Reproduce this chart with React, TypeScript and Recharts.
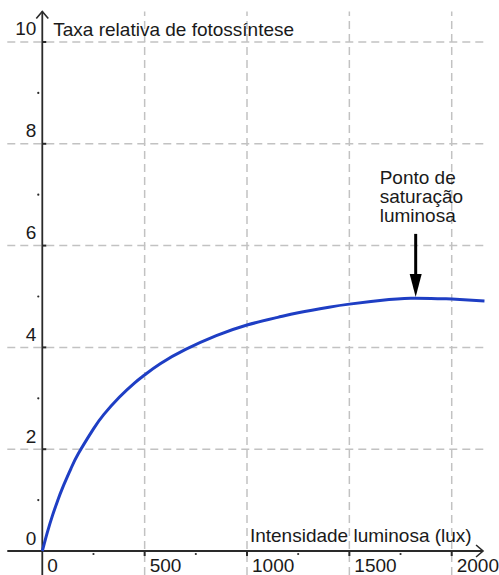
import React from 'react';
import { LineChart, Line, XAxis, YAxis, ReferenceLine, ReferenceDot } from 'recharts';

const luxValues = [0, 10, 25, 50, 76, 100, 140, 177, 250, 300, 376, 450, 500, 576, 700, 850, 1000, 1150, 1250, 1400, 1500, 1650, 1800, 1950, 2000, 2160];
const rateValues = [0, 0.15, 0.37, 0.7, 1.0, 1.25, 1.62, 1.92, 2.4, 2.68, 3.02, 3.3, 3.46, 3.68, 3.96, 4.23, 4.44, 4.59, 4.68, 4.79, 4.85, 4.92, 4.965, 4.955, 4.95, 4.91];

const xTicks = [0, 500, 1000, 1500, 2000];
const xTickLabels = ['0', '500', '1000', '1500', '2000'];
const xMinor = [250, 750, 1250, 1750];
const yTicks = [0, 2, 4, 6, 8, 10];
const yTickLabels = ['0', '2', '4', '6', '8', '10'];
const yMinor = [1, 3, 5, 7, 9];
const yGrid = [2, 4, 6, 8, 10];
const xGrid = [500, 1000, 1500, 2000];

const yTitle = 'Taxa relativa de fotossíntese';
const xTitle = 'Intensidade luminosa (lux)';
const noteLines = ['Ponto de', 'saturação', 'luminosa'];
const notePoint = { x: 1824, yTop: 6.23, yTip: 4.99 };

const X_DOMAIN = [-206.6, 2231];
const Y_DOMAIN = [-0.4715, 10.825];
const X_LEFT = -171;
const X_RIGHT = 2163;
const X_ARROW = 2153;
const Y_TOP = 10.6;
const Y_BOTTOM = -0.47;

const data = luxValues.map((x, i) => ({ x, y: rateValues[i] }));

const FONT = '"Liberation Sans", Arial, Helvetica, sans-serif';
const TEXT = '#1a1a1a';
const AXIS = '#2a2a2a';
const GRID = '#c2c2c2';

const yAxisShape = (p: any) => (
  <g>
    <line x1={p.x1} y1={p.y1} x2={p.x2} y2={p.y2} stroke={AXIS} strokeWidth={1.8} />
    <polyline points={`${p.x2 - 6},${p.y2 + 7} ${p.x2},${p.y2} ${p.x2 + 6},${p.y2 + 7}`} fill="none" stroke={AXIS} strokeWidth={1.6} />
  </g>
);

const xAxisShape = (p: any) => (
  <g>
    <line x1={p.x1} y1={p.y1} x2={p.x2} y2={p.y2} stroke={AXIS} strokeWidth={1.8} />
    <polyline points={`${p.x2 - 7},${p.y2 - 6} ${p.x2},${p.y2} ${p.x2 - 7},${p.y2 + 6}`} fill="none" stroke={AXIS} strokeWidth={1.6} />
  </g>
);

const noteArrowShape = (p: any) => {
  const x = p.x1;
  const top = Math.min(p.y1, p.y2);
  const tip = Math.max(p.y1, p.y2);
  return (
    <g>
      <line x1={x} y1={top} x2={x} y2={tip - 20} stroke="#000" strokeWidth={3} />
      <polygon points={`${x - 6},${tip - 23} ${x + 6},${tip - 23} ${x},${tip}`} fill="#000" />
    </g>
  );
};

export default function App() {
  return (
    <div style={{ position: 'absolute', left: 0, top: 0, width: 499, height: 575, background: '#fff' }}>
      <LineChart width={499} height={575} data={data} margin={{ top: 0, right: 0, bottom: 0, left: 0 }}>
        <XAxis dataKey="x" type="number" domain={X_DOMAIN} hide allowDataOverflow />
        <YAxis type="number" domain={Y_DOMAIN} hide allowDataOverflow />

        {yGrid.map((v) => (
          <ReferenceLine key={'hg' + v} segment={[{ x: X_LEFT, y: v }, { x: X_RIGHT, y: v }]} stroke={GRID} strokeWidth={1.5} strokeDasharray="8 5" ifOverflow="visible" />
        ))}
        {xGrid.map((v) => (
          <ReferenceLine key={'vg' + v} segment={[{ x: v, y: Y_BOTTOM }, { x: v, y: Y_TOP }]} stroke={GRID} strokeWidth={1.5} strokeDasharray="8 5" ifOverflow="visible" />
        ))}

        <ReferenceLine segment={[{ x: 0, y: Y_BOTTOM }, { x: 0, y: Y_TOP }]} shape={yAxisShape} ifOverflow="visible" />
        <ReferenceLine segment={[{ x: X_LEFT, y: 0 }, { x: X_ARROW, y: 0 }]} shape={xAxisShape} ifOverflow="visible" />

        {yTicks.map((v, i) => (
          <ReferenceDot key={'yt' + v} x={0} y={v} ifOverflow="visible" shape={(p: any) => (
            <g>
              {v !== 0 && <line x1={p.cx} y1={p.cy} x2={p.cx + 4} y2={p.cy} stroke={AXIS} strokeWidth={2} />}
              <text x={p.cx - 6} y={p.cy - 6.5} textAnchor="end" fontFamily={FONT} fontSize={19} fill={TEXT}>{yTickLabels[i]}</text>
            </g>
          )} />
        ))}
        {yMinor.map((v) => (
          <ReferenceDot key={'ym' + v} x={0} y={v} ifOverflow="visible" shape={(p: any) => (
            <circle cx={p.cx - 4} cy={p.cy} r={1.1} fill={AXIS} />
          )} />
        ))}
        {xTicks.map((v, i) => (
          <ReferenceDot key={'xt' + v} x={v} y={0} ifOverflow="visible" shape={(p: any) => (
            <g>
              {v !== 0 && <line x1={p.cx} y1={p.cy} x2={p.cx} y2={p.cy + 5} stroke={AXIS} strokeWidth={2} />}
              <text x={p.cx + 5} y={p.cy + 21} textAnchor="start" fontFamily={FONT} fontSize={19} fill={TEXT}>{xTickLabels[i]}</text>
            </g>
          )} />
        ))}
        {xMinor.map((v) => (
          <ReferenceDot key={'xm' + v} x={v} y={0} ifOverflow="visible" shape={(p: any) => (
            <circle cx={p.cx} cy={p.cy + 3} r={1.1} fill={AXIS} />
          )} />
        ))}

        <ReferenceDot x={0} y={10} ifOverflow="visible" shape={(p: any) => (
          <text x={p.cx + 11} y={p.cy - 6} fontFamily={FONT} fontSize={19} fill={TEXT}>{yTitle}</text>
        )} />
        <ReferenceDot x={2000} y={0} ifOverflow="visible" shape={(p: any) => (
          <text x={p.cx + 20} y={p.cy - 9.5} textAnchor="end" fontFamily={FONT} fontSize={19} fill={TEXT}>{xTitle}</text>
        )} />

        <Line type="natural" dataKey="y" stroke="#1e3ec4" strokeWidth={3} dot={false} activeDot={false} isAnimationActive={false} />

        <ReferenceLine segment={[{ x: notePoint.x, y: notePoint.yTop }, { x: notePoint.x, y: notePoint.yTip }]} shape={noteArrowShape} ifOverflow="visible" />
        <ReferenceDot x={notePoint.x} y={notePoint.yTop} ifOverflow="visible" shape={(p: any) => (
          <text fontFamily={FONT} fontSize={19} fill={TEXT}>
            {noteLines.map((t, i) => (
              <tspan key={t} x={p.cx - 36} y={p.cy - 50 + i * 19}>{t}</tspan>
            ))}
          </text>
        )} />
      </LineChart>
    </div>
  );
}
